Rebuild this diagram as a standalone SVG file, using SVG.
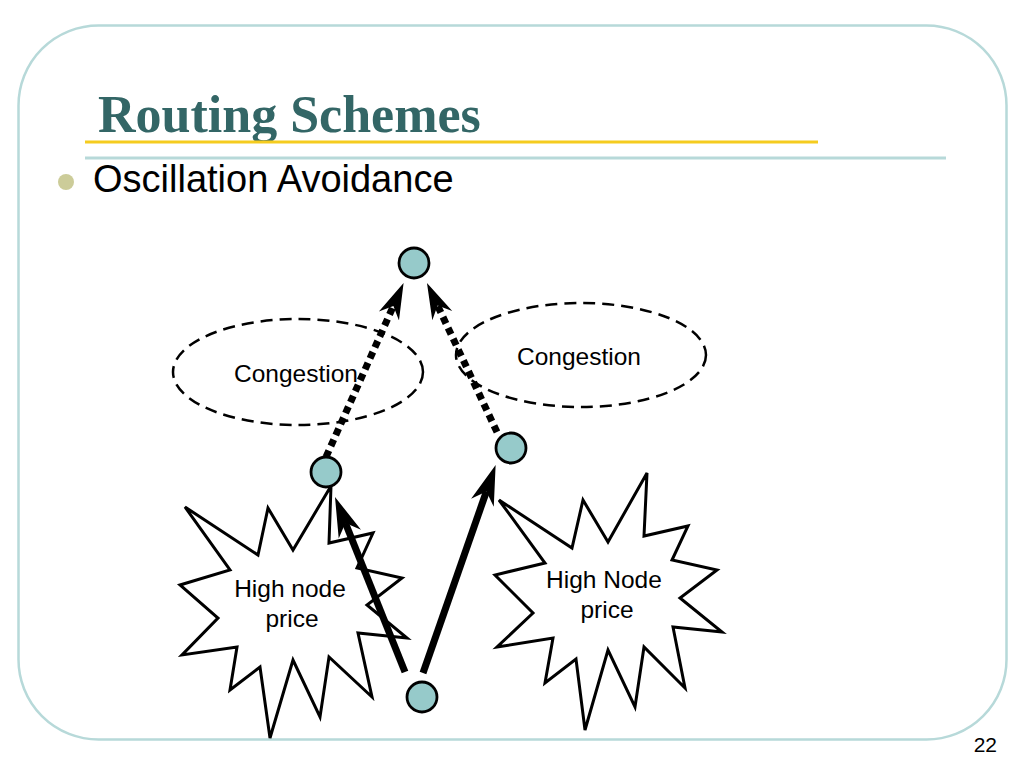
<svg xmlns="http://www.w3.org/2000/svg" width="1024" height="768" viewBox="0 0 1024 768">
  <style>
    .frame { fill: #ffffff; stroke: #B7D9D9; stroke-width: 2.5; }
    .title { font-family: "Liberation Serif", "Times New Roman", serif; font-weight: bold; font-size: 52px; fill: #336666; }
    .bullet-text { font-family: "Liberation Sans", Arial, sans-serif; font-size: 38px; fill: #000000; }
    .label { font-family: "Liberation Sans", Arial, sans-serif; font-size: 24.5px; fill: #000000; text-anchor: middle; }
    .page { font-family: "Liberation Sans", Arial, sans-serif; font-size: 21px; fill: #000000; text-anchor: end; }
    .node { fill: #96CACA; stroke: #000000; stroke-width: 2.8; }
    .region { fill: none; stroke: #000000; stroke-width: 2.5; stroke-dasharray: 12 7; }
    .star { fill: #ffffff; stroke: #000000; stroke-width: 3; stroke-linejoin: miter; }
    .dashed { fill: none; stroke: #000000; stroke-width: 7; stroke-dasharray: 7 5; marker-end: url(#arrD); }
    .solid { fill: none; stroke: #000000; stroke-width: 7; marker-end: url(#arrS); }
  </style>
  <defs>
    <marker id="arrD" markerUnits="userSpaceOnUse" viewBox="0 0 36 24" markerWidth="36" markerHeight="24" refX="11" refY="12" orient="auto">
      <path d="M36,12 L0,1 L11,12 L0,23 Z" fill="#000000"/>
    </marker>
    <marker id="arrS" markerUnits="userSpaceOnUse" viewBox="0 0 40 26" markerWidth="40" markerHeight="26" refX="12" refY="13" orient="auto">
      <path d="M40,13 L0,1 L12,13 L0,25 Z" fill="#000000"/>
    </marker>
  </defs>

  <rect width="1024" height="768" fill="#ffffff"/>
  <rect class="frame" x="18.5" y="25.5" width="988" height="714" rx="80" ry="80"/>

  <g id="header">
    <text class="title" x="98" y="132">Routing Schemes</text>
    <line x1="85" y1="142" x2="818" y2="142" stroke="#F5CC1F" stroke-width="3"/>
    <line x1="85" y1="158" x2="946" y2="158" stroke="#B7D9D9" stroke-width="3"/>
    <circle cx="66" cy="182" r="8" fill="#CCCC99"/>
    <text class="bullet-text" x="93" y="192">Oscillation Avoidance</text>
  </g>

  <g id="congestion-left">
    <ellipse class="region" cx="298" cy="372" rx="125" ry="53"/>
    <text class="label" x="296" y="382">Congestion</text>
  </g>
  <g id="congestion-right">
    <ellipse class="region" cx="581" cy="355" rx="125" ry="52"/>
    <text class="label" x="579" y="365">Congestion</text>
  </g>

  <g id="price-left">
    <polygon class="star" points="185,507 258,555 268,508 293,550 331,486 329,543 373,533 357,568 402,578 367,605 407,638 358,633 372,697 329,657 320,717 293,660 270,738 260,667 230,690 237,647 182,655 218,618 180,585 230,570"/>
    <text class="label" x="290" y="597">High node</text>
    <text class="label" x="292" y="627">price</text>
  </g>
  <g id="price-right">
    <polygon class="star" points="499,500 572,548 583,500 608,542 647,473 644,536 688,526 672,560 717,570 680,598 722,632 673,627 685,688 644,647 635,707 608,650 585,730 576,659 545,683 553,638 497,647 533,613 495,575 545,563"/>
    <text class="label" x="604" y="588">High Node</text>
    <text class="label" x="607" y="618">price</text>
  </g>

  <g id="connectors">
    <line class="dashed" x1="326" y1="457" x2="393.4" y2="305.9"/>
    <line class="dashed" x1="497" y1="432" x2="437.6" y2="305.6"/>
    <line class="solid" x1="405" y1="672" x2="345.4" y2="523"/>
    <line class="solid" x1="423" y1="673" x2="486.4" y2="491.5"/>
  </g>

  <g id="node-top"><circle class="node" cx="414" cy="263" r="15"/></g>
  <g id="node-left"><circle class="node" cx="326" cy="472" r="15"/></g>
  <g id="node-right"><circle class="node" cx="511" cy="448" r="15"/></g>
  <g id="node-bottom"><circle class="node" cx="422" cy="697" r="15"/></g>

  <text class="page" x="997" y="752">22</text>
</svg>
